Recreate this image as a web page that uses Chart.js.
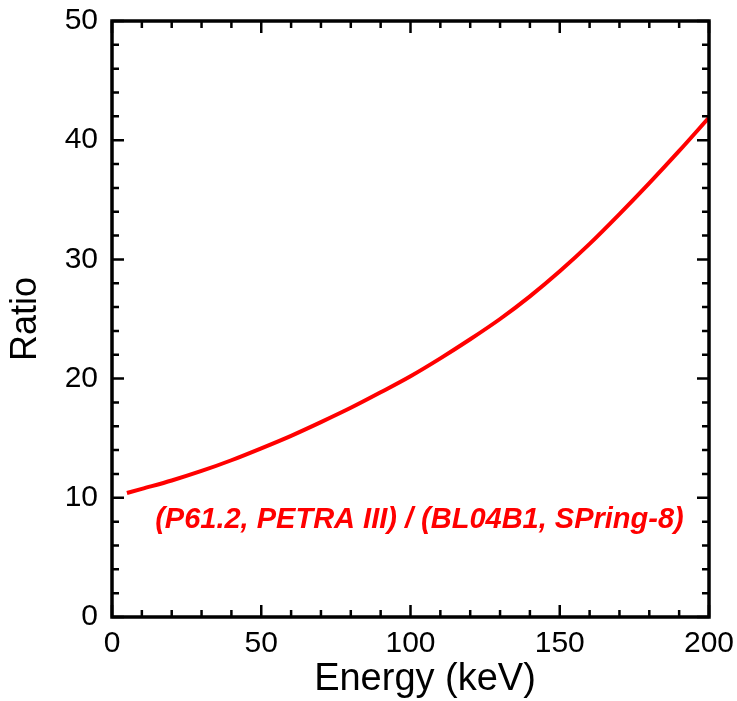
<!DOCTYPE html>
<html>
<head>
<meta charset="utf-8">
<script src="https://cdn.jsdelivr.net/npm/chart.js@4"></script>
<style>
  html, body { margin: 0; padding: 0; background: #fff; }
  #wrap { width: 737px; height: 701px; }
</style>
</head>
<body>
<div id="wrap"><canvas id="myChart" width="737" height="701"></canvas></div>
<script>
// values
const energy = [5, 10, 20, 30, 40, 50, 60, 70, 80, 90, 100, 110, 120, 130, 140, 150, 160, 170, 180, 190, 200];
const ratio = [10.4, 10.75, 11.45, 12.25, 13.15, 14.15, 15.2, 16.35, 17.55, 18.85, 20.2, 21.7, 23.3, 25.0, 26.9, 29.0, 31.3, 33.8, 36.4, 39.1, 41.9];
const seriesLabel = '(P61.2, PETRA III) / (BL04B1, SPring-8)';
const xTitle = 'Energy (keV)';
const yTitle = 'Ratio';

const FONT = '"Liberation Sans", Arial, sans-serif';

// frame + inward ticks on all four sides, plus the texts
const framePlugin = {
    id: 'frame',
    afterDraw(chart) {
        const {ctx, chartArea: a, scales: {x, y}} = chart;
        ctx.save();
        ctx.strokeStyle = '#000';
        ctx.lineWidth = 2.5;
        ctx.beginPath();
        for (let v = 0; v <= 200; v += 10) {
            const px = x.getPixelForValue(v);
            const len = v % 50 === 0 ? 12 : 7;
            ctx.moveTo(px, a.bottom); ctx.lineTo(px, a.bottom - len);
            ctx.moveTo(px, a.top); ctx.lineTo(px, a.top + len);
        }
        for (let v = 0; v <= 50; v += 2) {
            const py = y.getPixelForValue(v);
            const len = v % 10 === 0 ? 12 : 7;
            ctx.moveTo(a.left, py); ctx.lineTo(a.left + len, py);
            ctx.moveTo(a.right, py); ctx.lineTo(a.right - len, py);
        }
        ctx.stroke();
        ctx.lineWidth = 3.5;
        ctx.strokeRect(a.left, a.top, a.right - a.left, a.bottom - a.top);

        // series label
        ctx.fillStyle = '#ff0000';
        ctx.font = 'italic bold 29px ' + FONT;
        ctx.textAlign = 'center';
        ctx.textBaseline = 'middle';
        ctx.fillText(seriesLabel, x.getPixelForValue(103), y.getPixelForValue(8.1));

        // x axis title (sits a bit right of centre in the original)
        ctx.fillStyle = '#000';
        ctx.font = '38px ' + FONT;
        ctx.textBaseline = 'alphabetic';
        ctx.fillText(xTitle, 425, 690);
        ctx.restore();
    }
};

new Chart(document.getElementById('myChart'), {
    type: 'line',
    data: {
        datasets: [{
            label: seriesLabel,
            data: energy.map((e, i) => ({x: e, y: ratio[i]})),
            borderColor: '#ff0000',
            borderWidth: 4,
            pointRadius: 0,
            cubicInterpolationMode: 'monotone',
            fill: false
        }]
    },
    options: {
        responsive: false,
        animation: false,
        layout: { padding: { top: 21, right: 28, left: 0, bottom: 0 } },
        plugins: { legend: { display: false }, tooltip: { enabled: false } },
        scales: {
            x: {
                type: 'linear',
                min: 0, max: 200,
                grid: { display: false, drawTicks: false },
                border: { display: false },
                ticks: { stepSize: 50, color: '#000', padding: 9, font: { family: FONT, size: 30 } },
                title: { display: false },
                afterFit(scale) {
                    scale.height = 84;
                    scale.paddingLeft = 0;
                    scale.paddingRight = 0;
                }
            },
            y: {
                min: 0, max: 50,
                grid: { display: false, drawTicks: false },
                border: { display: false },
                ticks: { stepSize: 10, color: '#000', padding: 14, font: { family: FONT, size: 30 } },
                title: { display: true, text: yTitle, color: '#000', padding: { top: 4, bottom: 0 }, font: { family: FONT, size: 36 } },
                afterFit(scale) {
                    scale.width = 112;
                    scale.paddingTop = 0;
                    scale.paddingBottom = 0;
                }
            }
        }
    },
    plugins: [framePlugin]
});
</script>
</body>
</html>
